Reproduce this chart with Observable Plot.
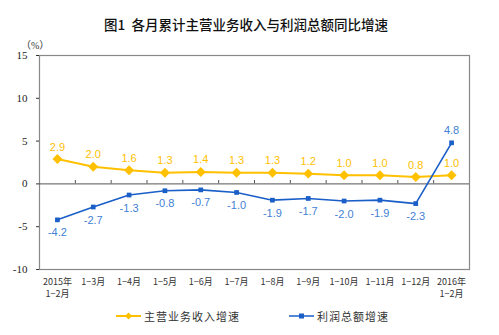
<!DOCTYPE html>
<html><head><meta charset="utf-8">
<script src="https://cdn.jsdelivr.net/npm/d3@7"></script>
<script src="https://cdn.jsdelivr.net/npm/@observablehq/plot@0.6"></script>
<style>
body{margin:0;background:#fff;width:499px;height:335px;position:relative;overflow:hidden;font-family:"Noto Sans CJK SC",sans-serif;}
#title{position:absolute;left:0;top:14px;width:492px;text-align:center;font-size:13.5px;font-weight:500;color:#111;}
#unit{position:absolute;left:21px;top:37px;font-size:10px;color:#333;font-family:"Liberation Serif","Noto Sans CJK SC",serif;}
#chart{position:absolute;left:0;top:35px;}
#legend{position:absolute;top:308px;left:0;width:499px;font-size:11px;color:#333;}
.li{position:absolute;display:flex;align-items:center;}
.li span{margin-left:3px;letter-spacing:1px;}
</style></head>
<body>
<div id="title">图1&nbsp; 各月累计主营业务收入与利润总额同比增速</div>
<div id="unit">（%）</div>
<div id="chart"></div>
<div id="legend">
 <div class="li" style="left:116px"><svg width="25" height="14"><line x1="0" y1="7" x2="25" y2="7" stroke="#FFC000" stroke-width="2"/><path d="M12.5,3.5L16,7L12.5,10.5L9,7Z" fill="#FFC000"/></svg><span>主营业务收入增速</span></div>
 <div class="li" style="left:289px"><svg width="25" height="14"><line x1="0" y1="7" x2="25" y2="7" stroke="#1A5EC8" stroke-width="1.5"/><rect x="10" y="4.5" width="5" height="5" fill="#1A5EC8"/></svg><span>利润总额增速</span></div>
</div>
<script>
const categories = ["2015年\n1−2月","1−3月","1−4月","1−5月","1−6月","1−7月","1−8月","1−9月","1−10月","1−11月","1−12月","2016年\n1−2月"];
const revenueGrowth = [2.9, 2.0, 1.6, 1.3, 1.4, 1.3, 1.3, 1.2, 1.0, 1.0, 0.8, 1.0];
const profitGrowth = [-4.2, -2.7, -1.3, -0.8, -0.7, -1.0, -1.9, -1.7, -2.0, -1.9, -2.3, 4.8];
const yTicks = [-10, -5, 0, 5, 10, 15];

const idx = categories.map((_, i) => i);
const rev = idx.map(i => ({i, v: revenueGrowth[i]}));
const prof = idx.map(i => ({i, v: profitGrowth[i], up: profitGrowth[i] > 0}));
const boundaries = idx.slice(0, -1).map(i => i + 0.5);

const yellow = "#FFC000", blue = "#1A5EC8", blueLabel = "#3F7FD6";
const labelFont = "Liberation Sans, Arial, sans-serif";

const chart = Plot.plot({
  width: 499, height: 265,
  marginTop: 20, marginBottom: 31, marginLeft: 39, marginRight: 30,
  x: {type: "linear", domain: [-0.5, idx.length - 0.5], label: null},
  y: {domain: [-10, 15], label: null},
  marks: [
    Plot.frame({stroke: "#888", strokeWidth: 1.2}),
    Plot.axisY(yTicks, {label: null, tickSize: 3, tickPadding: 9, tickFormat: d => String(d), fontSize: 11, fontFamily: "Liberation Serif, serif", stroke: "#333", fill: "#222"}),
    Plot.axisX(idx, {label: null, tickSize: 0, tickPadding: 7, tickFormat: i => categories[i], fontSize: 9, fontFamily: "Noto Sans CJK SC, sans-serif", fill: "#333", lineHeight: 1.3}),
    Plot.ruleY([0], {stroke: "#555", strokeWidth: 1}),
    Plot.ruleX(boundaries, {y1: 0, y2: 0.4, stroke: "#555"}),
    Plot.line(rev, {x: "i", y: "v", stroke: yellow, strokeWidth: 2}),
    Plot.dot(rev, {x: "i", y: "v", symbol: "diamond2", r: 4.5, fill: yellow, stroke: null}),
    Plot.line(prof, {x: "i", y: "v", stroke: blue, strokeWidth: 1.6}),
    Plot.dot(prof, {x: "i", y: "v", symbol: "square2", r: 3, fill: blue, stroke: null}),
    Plot.text(rev, {x: "i", y: "v", text: d => d.v.toFixed(1), dy: -12, fill: yellow, fontSize: 11, fontFamily: labelFont}),
    Plot.text(prof, {x: "i", y: "v", text: d => d.v.toFixed(1), fill: blueLabel, fontSize: 11, fontFamily: labelFont, filter: d => !d.up, dy: 13}),
    Plot.text(prof, {x: "i", y: "v", text: d => d.v.toFixed(1), fill: blueLabel, fontSize: 11, fontFamily: labelFont, filter: d => d.up, dy: -12})
  ]
});
document.getElementById("chart").appendChild(chart);
</script>
</body></html>
